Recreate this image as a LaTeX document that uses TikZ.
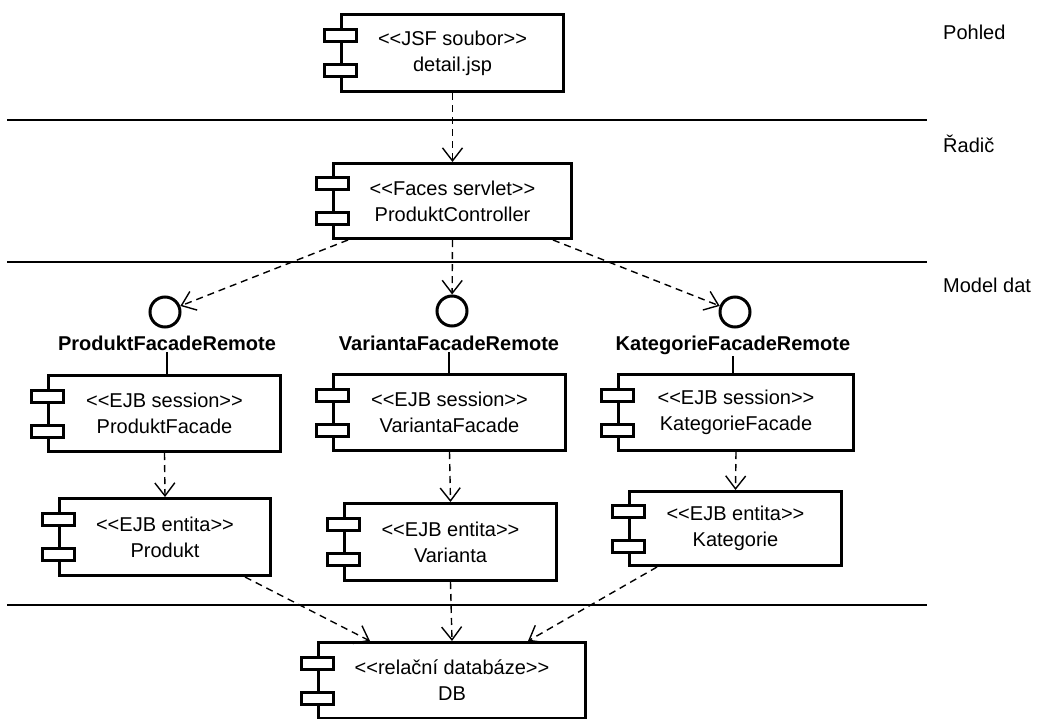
\documentclass[tikz,border=0pt]{standalone}
\usepackage{fontspec}
\setmainfont{Liberation Sans}
\usetikzlibrary{arrows.meta}
% stereotype brackets, kept apart so they are not joined into guillemets
\newcommand\stlo{\textless\kern0pt\textless}
\newcommand\stlc{\textgreater\kern0pt\textgreater}
% component: name, x, y, width, height, stereotype, name text
\newcommand\umlcomp[7]{%
  \node[compbox, minimum width=#4pt, minimum height=#5pt] (#1) at (#2,#3) {\stlo#6\stlc\\#7};
  \node[plug] (#1-a) at ([yshift=17.5pt]#1.west) {};
  \node[plug] (#1-b) at ([yshift=-17.5pt]#1.west) {};
}
\begin{document}
\begin{tikzpicture}[x=1pt,y=-1pt,
  every node/.style={font=\fontsize{20}{26}\selectfont},
  compbox/.style={draw, line width=3pt, fill=white, align=center, inner sep=0pt},
  plug/.style={draw, line width=3pt, fill=white, minimum width=32pt, minimum height=12pt, inner sep=0pt},
  iface/.style={draw, circle, line width=3pt, minimum size=30pt, inner sep=0pt},
  ifname/.style={font=\bfseries\fontsize{20}{24}\selectfont, inner sep=2pt, anchor=base},
  dep/.style={line width=1.4pt, dash pattern=on 7pt off 5pt, -{Straight Barb[length=13pt,width=20pt]}},
  tier/.style={line width=2pt},
  tiername/.style={anchor=base west, inner sep=0pt},
  link/.style={line width=1.5pt}
]
\useasboundingbox (0,0) rectangle (1039,718);
\clip (0,0) rectangle (1039,718);

% tier separators
\draw[tier] (7,119.5) -- (927,119.5);
\draw[tier] (7,262) -- (927,262);
\draw[tier] (7,605) -- (927,605);

% tier names
\node[tiername] (tv) at (943,39) {Pohled};
\node[tiername] (tc) at (943,152) {Řadič};
\node[tiername] (tm) at (943,292) {Model dat};

% components
\umlcomp{view}{452.5}{53}{222}{77}{JSF soubor}{detail.jsp}
\umlcomp{ctrl}{452.5}{201}{238}{75}{Faces servlet}{ProduktController}
\umlcomp{pf}{164.5}{413.5}{232}{76}{EJB session}{ProduktFacade}
\umlcomp{vf}{449.5}{412.5}{232}{76}{EJB session}{VariantaFacade}
\umlcomp{kf}{736}{412.5}{235}{76}{EJB session}{KategorieFacade}
\umlcomp{pe}{165}{537}{211}{77}{EJB entita}{Produkt}
\umlcomp{ve}{450.5}{542}{212}{77}{EJB entita}{Varianta}
\umlcomp{ke}{735.5}{528.5}{212}{74}{EJB entita}{Kategorie}
\umlcomp{db}{452}{680.5}{267}{76}{relační databáze}{DB}

% remote interfaces
\node[iface] (pi) at (165,312) {};
\node[iface] (vi) at (452,311) {};
\node[iface] (ki) at (735,312) {};
\node[ifname] (pil) at (167,350) {ProduktFacadeRemote};
\node[ifname] (vil) at (449,350) {VariantaFacadeRemote};
\node[ifname] (kil) at (733,350) {KategorieFacadeRemote};
\draw[link] (pil.south) -- (pil.south |- pf.north);
\draw[link] (vil.south) -- (vil.south |- vf.north);
\draw[link] (kil.south) -- (kil.south |- kf.north);

% dependencies
\draw[dep] (view.south) -- (ctrl.north);
\draw[dep] ([xshift=-104.5pt]ctrl.south) -- (pi);
\draw[dep] (ctrl.south) -- (vi);
\draw[dep] ([xshift=100.5pt]ctrl.south) -- (ki);
\draw[dep] (pf.south) -- (pe.north);
\draw[dep] (vf.south) -- (ve.north);
\draw[dep] (kf.south) -- (ke.north);
\draw[dep] ([xshift=80pt]pe.south) -- ([xshift=-82pt]db.north);
\draw[dep] (ve.south) -- (db.north);
\draw[dep] ([xshift=-78.5pt]ke.south) -- ([xshift=76pt]db.north);
\end{tikzpicture}
\end{document}
